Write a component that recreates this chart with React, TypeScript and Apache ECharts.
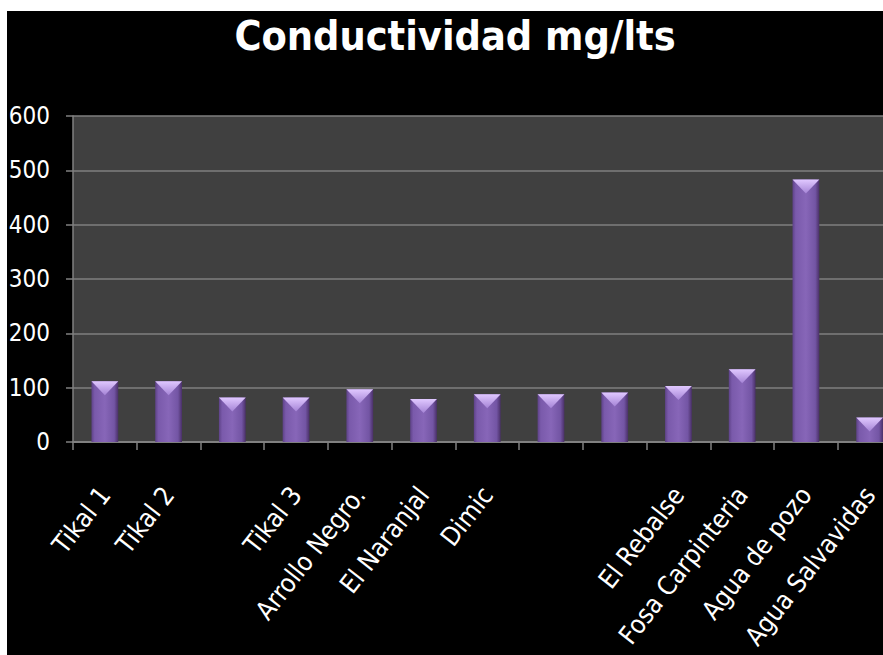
import React, { useEffect, useRef } from "react";
import * as echarts from "echarts";

const categories = [
  "Tikal 1",
  "Tikal 2",
  "",
  "Tikal 3",
  "Arrollo Negro.",
  "El Naranjal",
  "Dimic",
  "",
  "",
  "El Rebalse",
  "Fosa Carpinteria",
  "Agua de pozo",
  "Agua Salvavidas",
];
const values = [112, 112, 82, 82, 97, 79, 88, 88, 91, 103, 134, 483, 45];
const yTicks = { min: 0, max: 600, interval: 100 };
const titleText = "Conductividad mg/lts";

const FONT = "'DejaVu Sans Condensed', 'Liberation Sans Narrow', 'Open Sans', sans-serif";

export default function App() {
  const ref = useRef<HTMLDivElement>(null);
  useEffect(() => {
    if (!ref.current) return;
    const chart = echarts.init(ref.current, undefined, { renderer: "svg" });
    chart.setOption({
      animation: false,
      backgroundColor: "#000000",
      title: {
        text: titleText,
        left: 448,
        textAlign: "center",
        top: 0,
        padding: 0,
        textStyle: {
          color: "#ffffff",
          fontSize: 41,
          lineHeight: 50,
          fontWeight: "bold",
          fontFamily: FONT,
        },
      },
      grid: {
        left: 66,
        top: 105,
        bottom: 213,
        right: -18.5,
        show: true,
        backgroundColor: "#404040",
        borderWidth: 0,
        containLabel: false,
        outerBoundsMode: "none",
      },
      xAxis: {
        type: "category",
        data: categories,
        boundaryGap: true,
        axisLine: { show: true, lineStyle: { color: "#808080", width: 2 } },
        axisTick: { show: true, length: 8, lineStyle: { color: "#808080", width: 1.5 } },
        axisLabel: {
          interval: 0,
          rotate: 52,
          margin: 48,
          color: "#ffffff",
          fontSize: 26,
          fontFamily: FONT,
        },
        splitLine: { show: false },
      },
      yAxis: {
        type: "value",
        min: yTicks.min,
        max: yTicks.max,
        interval: yTicks.interval,
        axisLine: { show: true, lineStyle: { color: "#808080", width: 1.5 } },
        axisTick: { show: true, length: 7, lineStyle: { color: "#808080", width: 1.5 } },
        axisLabel: {
          color: "#ffffff",
          fontSize: 24,
          margin: 23,
          fontFamily: FONT,
        },
        splitLine: { show: true, lineStyle: { color: "#7f7f7f", width: 1.5 } },
      },
      series: [
        {
          type: "bar",
          data: values,
          barWidth: "42%",
          z: 2,
          itemStyle: {
            color: new echarts.graphic.LinearGradient(0, 0, 1, 0, [
              { offset: 0, color: "#5e4288" },
              { offset: 0.12, color: "#7a5aab" },
              { offset: 0.5, color: "#8766b8" },
              { offset: 0.85, color: "#7355a4" },
              { offset: 1, color: "#4a3068" },
            ]),
          },
        },
        {
          type: "pictorialBar",
          data: values,
          barWidth: "42%",
          barGap: "-100%",
          symbol: "path://M0,0 L20,0 L10,10 Z",
          symbolSize: ["100%", 14],
          symbolPosition: "end",
          z: 3,
          itemStyle: {
            color: new echarts.graphic.LinearGradient(0, 0, 0, 1, [
              { offset: 0, color: "#e0c8ff" },
              { offset: 1, color: "#a584d6" },
            ]),
          },
        },
      ],
    });
    return () => chart.dispose();
  }, []);
  return (
    <div style={{ position: "fixed", left: 0, top: 0, width: 883, height: 655, background: "#ffffff" }}>
      <div ref={ref} style={{ position: "absolute", left: 7, top: 11, width: 876, height: 644 }} />
    </div>
  );
}
